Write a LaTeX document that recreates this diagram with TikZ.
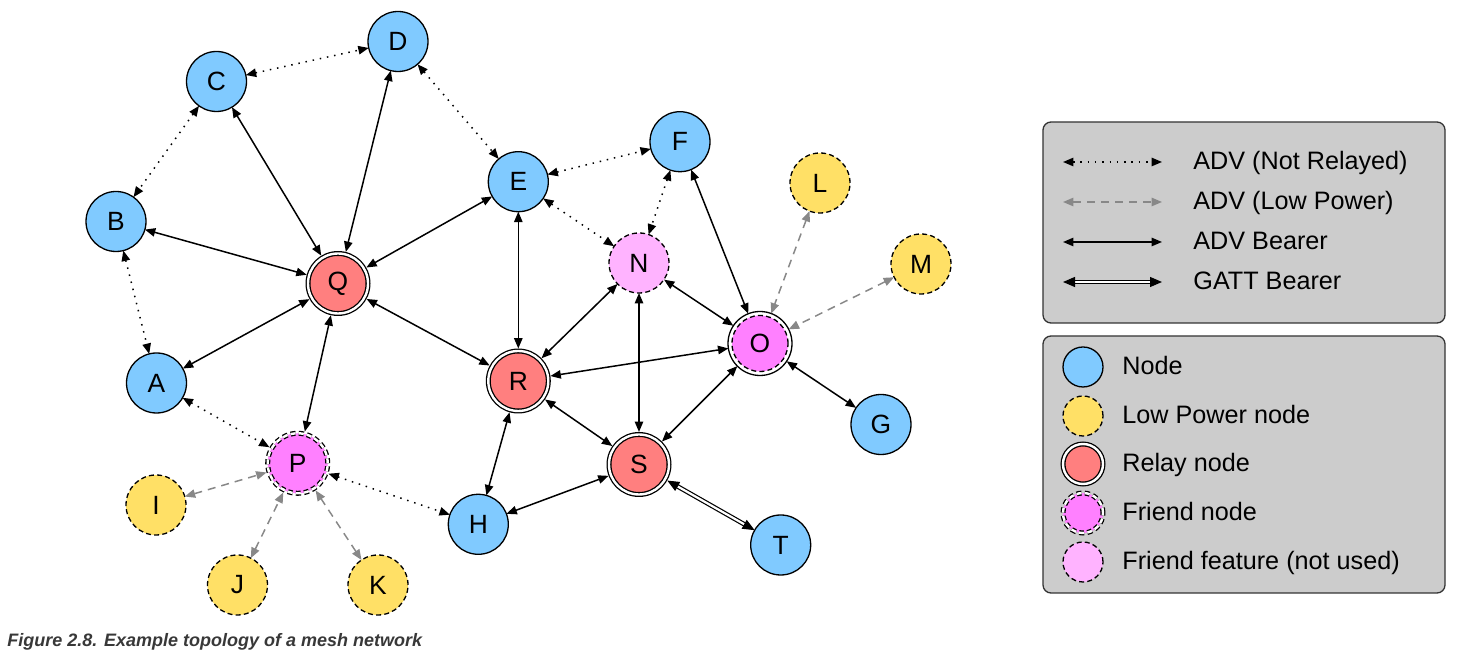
\documentclass[tikz,border=0pt]{standalone}
\usepackage{fontspec}
\setmainfont{Liberation Sans}
\usetikzlibrary{arrows.meta}
\definecolor{nodeblue}{HTML}{80CAFF}
\definecolor{lpyellow}{HTML}{FFE066}
\definecolor{relayred}{HTML}{FF7F7F}
\definecolor{friendmag}{HTML}{FF80FF}
\definecolor{featpink}{HTML}{FFB3FF}
\definecolor{legendgray}{HTML}{CCCCCC}
\definecolor{legendline}{HTML}{333333}
\definecolor{lpgray}{HTML}{888888}
\definecolor{captiongray}{HTML}{383838}
\tikzset{
  base/.style={circle, inner sep=0pt, outer sep=0pt, minimum size=30pt, line width=0.65pt,
    font=\fontsize{13.2}{13}\selectfont},
  ndash/.style={dash pattern=on 2.5pt off 1.6pt},
  plainnode/.style={base, fill=nodeblue, draw},
  lownode/.style={base, fill=lpyellow, draw, ndash},
  relaynode/.style={base, fill=relayred, draw, double=white, double distance=1.2pt, outer sep=1.25pt},
  friendnode/.style={base, fill=friendmag, draw, ndash, double=white, double distance=1.2pt, outer sep=1.25pt},
  featnode/.style={base, fill=featpink, draw, ndash},
  relayfriend/.style={base, minimum size=32pt, fill=white, draw,
    path picture={\draw[fill=friendmag, ndash, line width=0.65pt] (path picture bounding box.center) circle (14pt);}},
  small/.style={minimum size=20pt},
  nrlink/.style={<->, line width=0.75pt, dash pattern=on 0.75pt off 2.9pt},
  lplink/.style={<->, lpgray, line width=0.75pt, dash pattern=on 4pt off 3pt},
  advlink/.style={<->, line width=0.75pt},
  gattlink/.style={<->, >={Triangle[length=6pt,width=5pt]}, line width=0.6pt, double=white, double distance=1.1pt},
  legendbox/.style={fill=legendgray, draw=legendline, line width=0.65pt, rounded corners=4pt},
  legtext/.style={anchor=base west, inner sep=0pt, font=\fontsize{12.6}{13}\selectfont},
}
\begin{document}
\begin{tikzpicture}[x=0.5pt,y=-0.5pt, >={Triangle[length=5.2pt,width=4.2pt]}]
\useasboundingbox (0,0) rectangle (1457,656);

% nodes
\node[plainnode] (C) at (216.5,81.5) {C};
\node[plainnode] (D) at (398,41.5) {D};
\node[plainnode] (B) at (116,221.5) {B};
\node[relaynode] (Q) at (338,283.5) {Q};
\node[plainnode] (A) at (156.5,383) {A};
\node[plainnode] (E) at (518.3,181.7) {E};
\node[plainnode] (F) at (680,141.7) {F};
\node[featnode] (N) at (639,263) {N};
\node[lownode] (L) at (820,183) {L};
\node[lownode] (M) at (921,264) {M};
\node[relayfriend] (O) at (760,343.5) {O};
\node[relaynode] (R) at (518.3,381) {R};
\node[plainnode] (G) at (881,424.5) {G};
\node[relaynode] (S) at (639,464.5) {S};
\node[friendnode] (P) at (297.7,463.3) {P};
\node[lownode] (I) at (156,505) {I};
\node[lownode] (J) at (237.5,585) {J};
\node[lownode] (K) at (378,585) {K};
\node[plainnode] (H) at (478.3,524.3) {H};
\node[plainnode] (T) at (780.7,545) {T};

% ADV (not relayed)
\draw[nrlink] (C) -- (D);
\draw[nrlink] (C) -- (B);
\draw[nrlink] (B) -- (A);
\draw[nrlink] (D) -- (E);
\draw[nrlink] (E) -- (F);
\draw[nrlink] (E) -- (N);
\draw[nrlink] (F) -- (N);
\draw[nrlink] (A) -- (P);
\draw[nrlink] (P) -- (H);

% ADV (low power)
\draw[lplink] (L) -- (O);
\draw[lplink] (M) -- (O);
\draw[lplink] (I) -- (P);
\draw[lplink] (J) -- (P);
\draw[lplink] (K) -- (P);

% ADV bearer
\draw[advlink] (C) -- (Q);
\draw[advlink] (D) -- (Q);
\draw[advlink] (B) -- (Q);
\draw[advlink] (E) -- (Q);
\draw[advlink] (A) -- (Q);
\draw[advlink] (Q) -- (P);
\draw[advlink] (Q) -- (R);
\draw[advlink] (E) -- (R);
\draw[advlink] (R) -- (N);
\draw[advlink] (R) -- (O);
\draw[advlink] (R) -- (S);
\draw[advlink] (R) -- (H);
\draw[advlink] (N) -- (O);
\draw[advlink] (F) -- (O);
\draw[advlink] (N) -- (S);
\draw[advlink] (O) -- (S);
\draw[advlink] (O) -- (G);
\draw[advlink] (H) -- (S);

% GATT bearer
\draw[gattlink] (S) -- (T);

% legend 1
\draw[legendbox] (1043,122) rectangle (1445,323);
\coordinate (la1) at (1063,162); \coordinate (lb1) at (1162,162);
\coordinate (la2) at (1063,202); \coordinate (lb2) at (1162,202);
\coordinate (la3) at (1063,242); \coordinate (lb3) at (1162,242);
\coordinate (la4) at (1063,282); \coordinate (lb4) at (1162,282);
\draw[nrlink] (la1) -- (lb1);
\draw[lplink] (la2) -- (lb2);
\draw[advlink] (la3) -- (lb3);
\draw[gattlink] (la4) -- (lb4);
\node[legtext] (t1) at (1193,170) {ADV (Not Relayed)};
\node[legtext] (t2) at (1193,210) {ADV (Low Power)};
\node[legtext] (t3) at (1193,250) {ADV Bearer};
\node[legtext] (t4) at (1193,290) {GATT Bearer};

% legend 2
\draw[legendbox] (1043,336) rectangle (1445,593);
\node[plainnode, small] (s1) at (1083,367) {};
\node[lownode, small] (s2) at (1083,416) {};
\node[relaynode, small] (s3) at (1083,464) {};
\node[friendnode, small] (s4) at (1083,513) {};
\node[featnode, small] (s5) at (1083,562) {};
\node[legtext] (u1) at (1122,375) {Node};
\node[legtext] (u2) at (1122,424) {Low Power node};
\node[legtext] (u3) at (1122,472) {Relay node};
\node[legtext] (u4) at (1122,521) {Friend node};
\node[legtext] (u5) at (1122,570) {Friend feature (not used)};

% caption
\node[anchor=base west, inner sep=0pt, text=captiongray,
  font=\bfseries\itshape\fontsize{9}{10}\selectfont] (cap) at (7,647)
  {Figure 2.8. Example topology of a mesh network};
\end{tikzpicture}
\end{document}
